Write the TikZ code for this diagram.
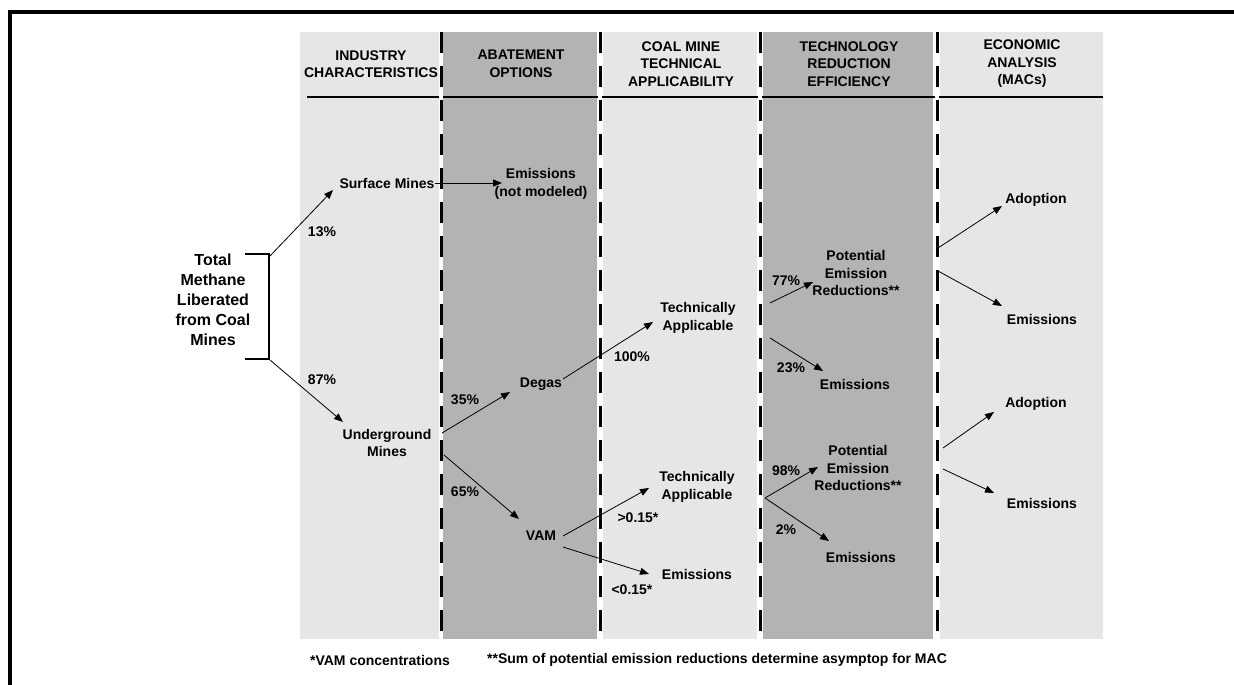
\documentclass[tikz,border=0pt]{standalone}
\usepackage{fontspec}
\setmainfont{Liberation Sans}
\usetikzlibrary{arrows.meta}
\definecolor{lightcol}{HTML}{E6E6E6}
\definecolor{darkcol}{HTML}{B3B3B3}
\begin{document}
\begin{tikzpicture}[x=1pt,y=-1pt,
  lbl/.style={font=\fontsize{14}{17.5}\selectfont\bfseries, align=center, inner sep=0pt},
  big/.style={font=\fontsize{16}{20}\selectfont\bfseries, align=center, inner sep=0pt},
  conn/.style={-{Triangle[length=9pt,width=7pt]}, line width=0.8pt},
  divider/.style={line width=3pt, dash pattern=on 21pt off 13pt},
  gapline/.style={white, line width=4pt},
  frameline/.style={line width=4pt, line join=miter},
  lightbox/.style={fill=lightcol, draw=none},
  darkbox/.style={fill=darkcol, draw=none}]
\useasboundingbox (0,0) rectangle (1234,685);
\begin{scope}
\clip (0,0) rectangle (1234,685);
\draw[frameline] (10,700) -- (10,12) -- (1250,12);
\end{scope}
% columns
\fill[lightbox] (300,32) rectangle (439,639);
\fill[darkbox] (443,32) rectangle (597,639);
\fill[lightbox] (603,32) rectangle (757,639);
\fill[darkbox] (763,32) rectangle (933,639);
\fill[lightbox] (940,32) rectangle (1103,639);
% header rule
\draw[line width=2.5pt] (307,97) -- (1103,97);
% dividers
\foreach \x in {441,600,760,937} {
  \draw[gapline] (\x,32) -- (\x,639);
  \draw[divider] (\x,32) -- (\x,639);
}
% headers
\node[lbl] (h1) at (371,64) {INDUSTRY\\CHARACTERISTICS};
\node[lbl] (h2) at (521,64) {ABATEMENT\\OPTIONS};
\node[lbl] (h3) at (681,64) {COAL MINE\\TECHNICAL\\APPLICABILITY};
\node[lbl] (h4) at (849,64) {TECHNOLOGY\\REDUCTION\\EFFICIENCY};
\node[lbl] (h5) at (1022,64) {ECONOMIC\\ANALYSIS\\(MACs)};
% total
\node[big] (total) at (213,300) {Total\\Methane\\Liberated\\from Coal\\Mines};
\coordinate (bt) at (245,254);
\coordinate (bb) at (245,359);
\draw[line width=2pt, line join=miter] (bt) -- (269,254) -- (269,359) -- (bb);
\coordinate (btc) at (270,256);
\coordinate (bbc) at (270,360);
% nodes
\node[lbl] (surf) at (387,183) {Surface Mines};
\node[lbl] (emis0) at (541,184) {Emissions\\(not modeled)};
\node[lbl] (ug) at (387,443) {Underground\\Mines};
\node[lbl] (degas) at (541,384) {Degas};
\node[lbl] (vam) at (541,536) {VAM};
\node[lbl] (tech1) at (698,318) {Technically\\Applicable};
\node[lbl] (tech2) at (697,487) {Technically\\Applicable};
\node[lbl] (emis1) at (697,574) {Emissions};
\node[lbl] (pot1) at (856,273) {Potential\\Emission\\Reductions**};
\node[lbl] (emis2) at (855,384) {Emissions};
\node[lbl] (pot2) at (858,468) {Potential\\Emission\\Reductions**};
\node[lbl] (emis3) at (861,557) {Emissions};
\node[lbl] (adopt1) at (1036,200) {Adoption};
\node[lbl] (emis4) at (1042,319) {Emissions};
\node[lbl] (adopt2) at (1036,404) {Adoption};
\node[lbl] (emis5) at (1042,503) {Emissions};
% percentage labels
\node[lbl] (p13) at (322,232) {13\%};
\node[lbl] (p87) at (322,380) {87\%};
\node[lbl] (p35) at (465,400) {35\%};
\node[lbl] (p65) at (465,492) {65\%};
\node[lbl] (p100) at (632,357) {100\%};
\node[lbl] (pgt) at (638,518) {>0.15*};
\node[lbl] (plt) at (632,590) {<0.15*};
\node[lbl] (p77) at (786,281) {77\%};
\node[lbl] (p23) at (791,368) {23\%};
\node[lbl] (p98) at (786,471) {98\%};
\node[lbl] (p2) at (786,530) {2\%};
% footnotes
\node[lbl] (fn1) at (380,660) {*VAM concentrations};
\node[lbl] (fn2) at (717,660) {**Sum of potential emission reductions determine asymptop for MAC};
% connector end points
\coordinate (surfin) at (333,190);
\coordinate (ugin) at (343,422);
\coordinate (emis0in) at (502,183);
\coordinate (ugout1) at (442,433);
\coordinate (degasin) at (510,392);
\coordinate (ugout2) at (444,455);
\coordinate (vamin) at (519,519);
\coordinate (degasout) at (563,379);
\coordinate (tech1in) at (653,322);
\coordinate (vamout1) at (563,536);
\coordinate (tech2in) at (649,488);
\coordinate (vamout2) at (563,547);
\coordinate (emis1in) at (649,574);
\coordinate (tech1outa) at (770,303);
\coordinate (pot1in) at (813,282);
\coordinate (tech1outb) at (770,338);
\coordinate (emis2in) at (823,371);
\coordinate (tech2out) at (765,498);
\coordinate (pot2in) at (818,467);
\coordinate (emis3in) at (829,541);
\coordinate (pot1outa) at (938,248);
\coordinate (adopt1in) at (1002,206);
\coordinate (pot1outb) at (938,271);
\coordinate (emis4in) at (1002,306);
\coordinate (pot2outa) at (943,448);
\coordinate (adopt2in) at (994,412);
\coordinate (pot2outb) at (943,469);
\coordinate (emis5in) at (994,493);
% connectors
\draw[conn] (btc) -- (surfin);
\draw[conn] (bbc) -- (ugin);
\draw[conn] (surf.east) -- (emis0in);
\draw[conn] (ugout1) -- (degasin);
\draw[conn] (ugout2) -- (vamin);
\draw[conn] (degasout) -- (tech1in);
\draw[conn] (vamout1) -- (tech2in);
\draw[conn] (vamout2) -- (emis1in);
\draw[conn] (tech1outa) -- (pot1in);
\draw[conn] (tech1outb) -- (emis2in);
\draw[conn] (tech2out) -- (pot2in);
\draw[conn] (tech2out) -- (emis3in);
\draw[conn] (pot1outa) -- (adopt1in);
\draw[conn] (pot1outb) -- (emis4in);
\draw[conn] (pot2outa) -- (adopt2in);
\draw[conn] (pot2outb) -- (emis5in);
\end{tikzpicture}
\end{document}
